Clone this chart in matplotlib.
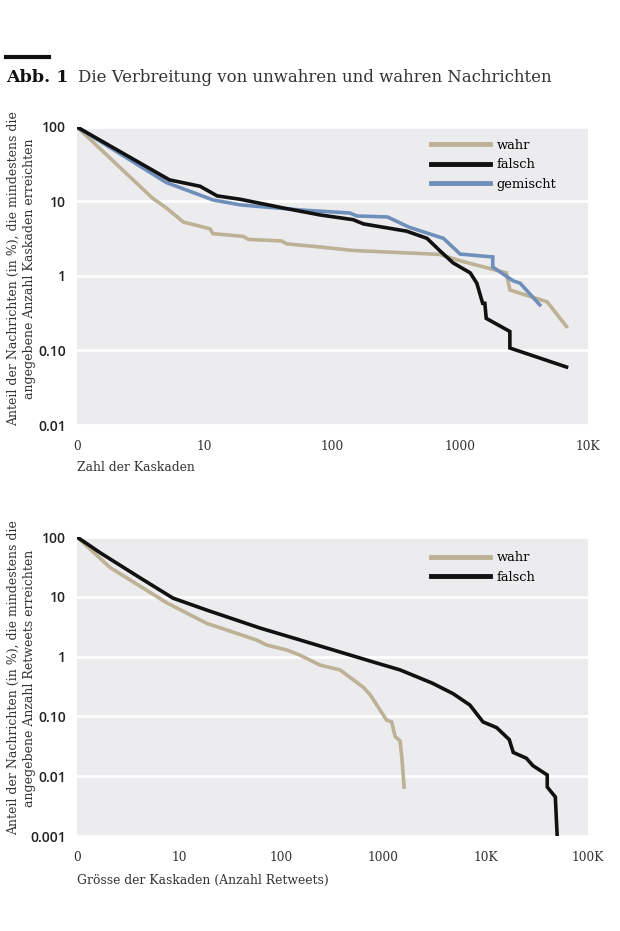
import matplotlib.pyplot as plt
from matplotlib.lines import Line2D

# Abb. 1 - Kaskaden (oben) und Retweets (unten)
farbe_wahr = '#bdb196'
farbe_falsch = '#111111'
farbe_gemischt = '#6f8fbb'

# oben: Zahl der Kaskaden (x=1 entspricht "0")
k_wahr_x = [1, 3.9, 5.0, 6.8, 11, 11.6, 20, 22, 40, 44, 80, 145, 690, 1000, 2300, 2450, 4800, 6800]
k_wahr_y = [100, 11.1, 8.2, 5.3, 4.3, 3.7, 3.4, 3.1, 2.95, 2.7, 2.45, 2.2, 1.95, 1.6, 1.1, 0.65, 0.45, 0.21]

k_falsch_x = [1, 5.3, 9.2, 12.5, 19, 41, 80, 145, 175, 380, 550, 690, 880, 1200, 1350, 1500, 1560, 1600,
              2450, 2450, 6800]
k_falsch_y = [100, 19.5, 16, 11.9, 10.7, 8.2, 6.6, 5.7, 5.0, 4.0, 3.2, 2.2, 1.5, 1.1, 0.8, 0.43, 0.43, 0.27,
              0.18, 0.108, 0.06]

k_gemischt_x = [1, 5, 11.6, 19, 56, 137, 155, 270, 400, 740, 1000, 1800, 1800, 2600, 2950, 4200]
k_gemischt_y = [100, 18, 10.5, 9, 7.7, 7.0, 6.4, 6.2, 4.5, 3.2, 1.97, 1.8, 1.32, 0.86, 0.8, 0.41]

# unten: Groesse der Kaskaden (Anzahl Retweets)
r_wahr_x = [1, 2.1, 7.6, 18.6, 57, 72, 113, 152, 240, 375, 630, 740, 920, 1070, 1200, 1300, 1450, 1510, 1590]
r_wahr_y = [100, 31, 7.9, 3.6, 1.9, 1.56, 1.29, 1.06, 0.72, 0.6, 0.31, 0.23, 0.13, 0.087, 0.081, 0.046,
            0.039, 0.021, 0.0066]

r_falsch_x = [1, 1.7, 4.1, 8.7, 18.6, 62, 152, 860, 1450, 3000, 4800, 7000, 9400, 12800, 17000, 18600,
              25000, 29000, 40000, 40000, 48000, 50000]
r_falsch_y = [100, 54, 21, 9.5, 6.0, 3.0, 1.9, 0.78, 0.6, 0.36, 0.24, 0.155, 0.081, 0.065, 0.041, 0.025,
              0.02, 0.015, 0.0105, 0.0066, 0.0045, 0.00105]

x_ticks_oben = [1, 10, 100, 1000, 10000]
x_labels_oben = ['0', '10', '100', '1000', '10K']
y_ticks_oben = [100, 10, 1, 0.1, 0.01]
y_labels_oben = ['100', '10', '1', '0.10', '0.01']

x_ticks_unten = [1, 10, 100, 1000, 10000, 100000]
x_labels_unten = ['0', '10', '100', '1000', '10K', '100K']
y_ticks_unten = [100, 10, 1, 0.1, 0.01, 0.001]
y_labels_unten = ['100', '10', '1', '0.10', '0.01', '0.001']

serif = 'DejaVu Serif'
sans = 'Open Sans'

fig = plt.figure(figsize=(6.2, 9.31), dpi=100)
fig.patch.set_facecolor('white')


def style_axes(ax, xt, xl, yt, yl):
    ax.set_facecolor('#ececee')
    ax.set_xscale('log')
    ax.set_yscale('log')
    ax.set_xlim(xt[0], xt[-1])
    ax.set_ylim(yt[-1], yt[0])
    ax.set_xticks(xt)
    ax.set_xticklabels(xl, fontfamily=serif, fontsize=8.8, color='#333333')
    ax.set_yticks(yt)
    ax.set_yticklabels(yl, fontfamily=sans, fontsize=10, fontweight='semibold', color='#222222')
    ax.minorticks_off()
    ax.tick_params(length=0, pad=8)
    ax.tick_params(axis='x', pad=11)
    for s in ax.spines.values():
        s.set_visible(False)
    ax.grid(axis='y', color='white', linewidth=2)
    ax.set_axisbelow(True)


leg_args = dict(loc='upper left', frameon=False, handlelength=4.5, handletextpad=0.5,
                labelspacing=0.5, prop={'family': serif, 'size': 9.4})

ax1 = fig.add_axes([0.1242, 0.5435, 0.824, 0.3201])
style_axes(ax1, x_ticks_oben, x_labels_oben, y_ticks_oben, y_labels_oben)
ax1.plot(k_wahr_x, k_wahr_y, color=farbe_wahr, lw=2.6, solid_joinstyle='miter')
ax1.plot(k_gemischt_x, k_gemischt_y, color=farbe_gemischt, lw=2.6, solid_joinstyle='miter')
ax1.plot(k_falsch_x, k_falsch_y, color=farbe_falsch, lw=2.6, solid_joinstyle='miter')
h1 = [Line2D([], [], color=farbe_wahr, lw=3.5), Line2D([], [], color=farbe_falsch, lw=3.5),
      Line2D([], [], color=farbe_gemischt, lw=3.5)]
ax1.legend(h1, ['wahr', 'falsch', 'gemischt'], bbox_to_anchor=(0.67, 1.0), **leg_args)

ax2 = fig.add_axes([0.1242, 0.102, 0.824, 0.3212])
style_axes(ax2, x_ticks_unten, x_labels_unten, y_ticks_unten, y_labels_unten)
ax2.plot(r_wahr_x, r_wahr_y, color=farbe_wahr, lw=2.6, solid_joinstyle='miter')
ax2.plot(r_falsch_x, r_falsch_y, color=farbe_falsch, lw=2.6, solid_joinstyle='miter')
h2 = [Line2D([], [], color=farbe_wahr, lw=3.5), Line2D([], [], color=farbe_falsch, lw=3.5)]
ax2.legend(h2, ['wahr', 'falsch'], bbox_to_anchor=(0.67, 0.992), **leg_args)

# Achsentitel
ylab = 'Anteil der Nachrichten (in %), die mindestens die\nangegebene Anzahl {} erreichten'
fig.text(0.035, 1 - 269 / 931, ylab.format('Kaskaden'), rotation=90, ha='center', va='center',
         fontfamily=serif, fontsize=9.0, color='#333333', linespacing=1.3)
fig.text(0.035, 1 - 678 / 931, ylab.format('Retweets'), rotation=90, ha='center', va='center',
         fontfamily=serif, fontsize=9.0, color='#333333', linespacing=1.3)
fig.text(0.1242, 1 - 468 / 931, 'Zahl der Kaskaden', ha='left', va='center',
         fontfamily=serif, fontsize=8.9, color='#333333')
fig.text(0.1242, 1 - 880 / 931, 'Grösse der Kaskaden (Anzahl Retweets)', ha='left', va='center',
         fontfamily=serif, fontsize=8.9, color='#333333')

# Titel
fig.add_artist(Line2D([6 / 620, 49 / 620], [1 - 57 / 931, 1 - 57 / 931], color='#111111', lw=3))
fig.text(6 / 620, 1 - 78 / 931, 'Abb. 1', ha='left', va='center', fontfamily=serif,
         fontsize=12.6, fontweight='bold', color='#111111')
fig.text(78 / 620, 1 - 78 / 931, 'Die Verbreitung von unwahren und wahren Nachrichten', ha='left',
         va='center', fontfamily=serif, fontsize=11.9, color='#333333')

fig.savefig('out.png', dpi=100)
